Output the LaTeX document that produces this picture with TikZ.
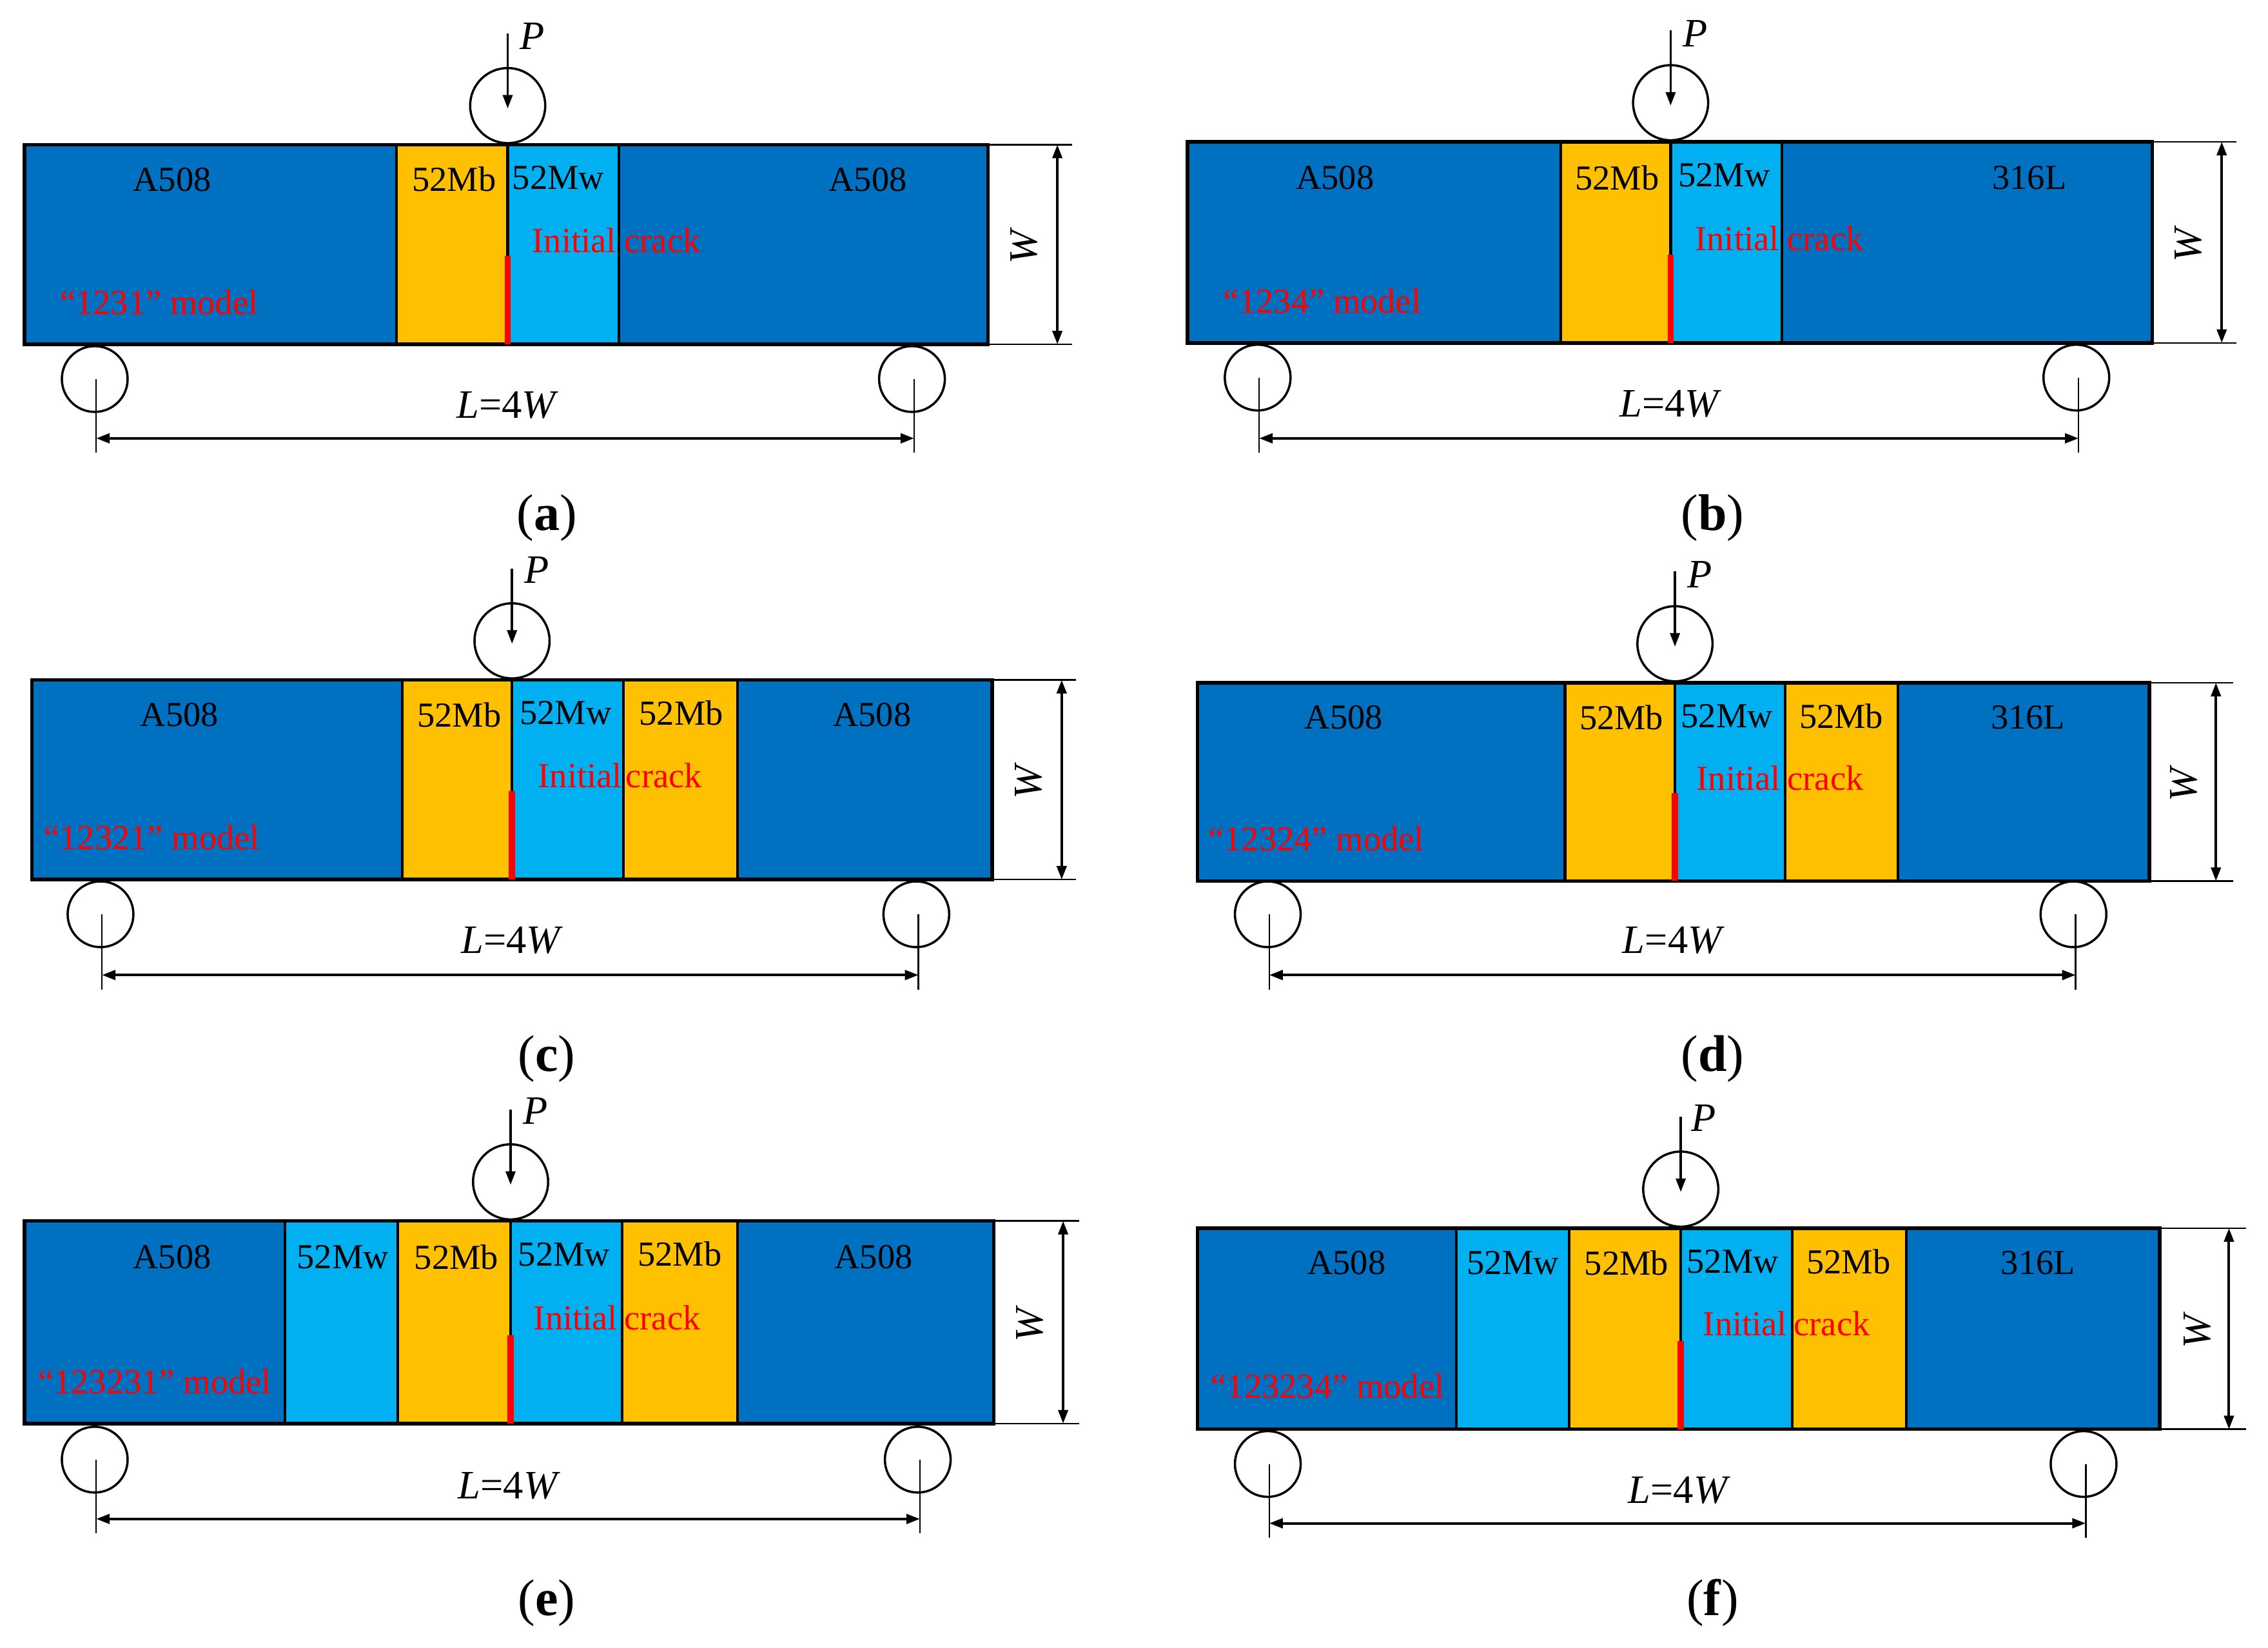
\documentclass[tikz,border=0pt]{standalone}
\usepackage{fontspec}
\setmainfont{Liberation Serif}
\usetikzlibrary{arrows.meta}
\definecolor{basecol}{HTML}{0070C0}
\definecolor{weldcol}{HTML}{00B0F0}
\definecolor{buttcol}{HTML}{FFC000}
\definecolor{crackcol}{HTML}{FF0000}
\tikzset{
  seg/.style={draw=black,line width=0.85pt},
  frameline/.style={draw=black,line width=1.1pt},
  crackline/.style={draw=crackcol,line width=1.9pt},
  txt/.style={inner sep=0pt,font=\fontsize{10.9}{12}\selectfont},
  redtxt/.style={txt,text=crackcol},
  symb/.style={inner sep=0pt,font=\fontsize{12.5}{14}\itshape\selectfont},
  caption/.style={inner sep=0pt,font=\fontsize{16}{18}\selectfont},
  loadroll/.style={circle,draw=black,line width=0.7pt,minimum size=23.3pt,inner sep=0pt},
  suproll/.style={circle,draw=black,line width=0.7pt,minimum size=20.4pt,inner sep=0pt},
  thin line/.style={draw=black,line width=0.5pt},
  dimline/.style={draw=black,line width=0.8pt,{Triangle[length=4.2pt,width=3pt]}-{Triangle[length=4.2pt,width=3pt]}},
  loadline/.style={draw=black,line width=0.7pt,-{Triangle[length=4.2pt,width=3pt]}},
}
% load roller: id, x, circle y, P x, P y
\newcommand{\loadroller}[5]{%
  \node[loadroll] (#1-load) at (#2,#3) {};
  \coordinate (#1-ptop) at (#2,#3-50);
  \coordinate (#1-ptip) at (#2,#3+2);
  \draw[loadline] (#1-ptop) -- (#1-ptip);
  \node[symb] (#1-P) at (#4,#5) {P};
}
% supports and span: id, xl, xr, y, dim y, L x, L y
\newcommand{\supports}[7]{%
  \node[suproll] (#1-sl) at (#2-0.5,#4) {};
  \node[suproll] (#1-sr) at (#3-0.5,#4) {};
  \coordinate (#1-tl) at (#2+0.5,#4);
  \coordinate (#1-tr) at (#3+1,#4);
  \coordinate (#1-bl) at (#2+0.5,#5+10);
  \coordinate (#1-br) at (#3+1,#5+10);
  \coordinate (#1-dl) at (#2+0.5,#5);
  \coordinate (#1-dr) at (#3+1,#5);
  \draw[thin line] (#1-tl) -- (#1-bl);
  \draw[thin line] (#1-tr) -- (#1-br);
  \draw[dimline] (#1-dl) -- (#1-dr);
  \node[symb] (#1-L) at (#6,#7) {L\textup{=4}W};
}
% height dimension: id, x right, y top, y bottom, arrow x, ext x, W x
\newcommand{\heightdim}[7]{%
  \coordinate (#1-e1) at (#2,#3);
  \coordinate (#1-e2) at (#6,#3);
  \coordinate (#1-e3) at (#2,#4);
  \coordinate (#1-e4) at (#6,#4);
  \coordinate (#1-a1) at (#5,#3);
  \coordinate (#1-a2) at (#5,#4);
  \draw[thin line] (#1-e1) -- (#1-e2);
  \draw[thin line] (#1-e3) -- (#1-e4);
  \draw[dimline] (#1-a1) -- (#1-a2);
  \node[symb,rotate=90] (#1-W) at (#7,{(#3+#4)/2+2}) {W};
}
% beam segment: x0, x1, y top, y bottom, colour
\newcommand{\segm}[5]{\draw[seg,fill=#5] (#1,#3) rectangle (#2,#4);}
% crack: id, x, y bottom
\newcommand{\crackmark}[3]{%
  \coordinate (#1-c1) at (#2,#3-61);
  \coordinate (#1-c2) at (#2,#3);
  \draw[crackline] (#1-c1) -- (#1-c2);
}
\begin{document}
\begin{tikzpicture}[x=0.44872pt,y=-0.44872pt]
\useasboundingbox (0,0) rectangle (1568,1139);

% (a)
\segm{17}{274}{100}{238}{basecol}
\segm{274}{351}{100}{238}{buttcol}
\segm{351}{428}{100}{238}{weldcol}
\segm{428}{683}{100}{238}{basecol}
\draw[frameline] (17,100) rectangle (683,238);
\crackmark{a}{351}{238}
\loadroller{a}{351}{73}{368}{25}
\supports{a}{66}{631}{262}{303}{350}{280}
\heightdim{a}{683}{100}{238}{731}{741}{708}
\node[txt] (a-t1) at (119,124) {A508};
\node[txt] (a-t2) at (314,124) {52Mb};
\node[txt] (a-t3) at (386,123) {52Mw};
\node[txt] (a-t4) at (600,124) {A508};
\node[redtxt] (a-i) at (397,166) {Initial};
\node[redtxt] (a-k) at (458,166) {crack};
\node[redtxt] (a-m) at (110,209) {“1231” model};
\node[caption] (a-cap) at (378,358) {(\textbf{a})};

% (b)
\segm{821}{1079}{98}{237}{basecol}
\segm{1079}{1155}{98}{237}{buttcol}
\segm{1155}{1232}{98}{237}{weldcol}
\segm{1232}{1488}{98}{237}{basecol}
\draw[frameline] (821,98) rectangle (1488,237);
\crackmark{b}{1155}{237}
\loadroller{b}{1155}{71}{1172}{23}
\supports{b}{870}{1436}{261}{303}{1154}{279}
\heightdim{b}{1488}{98}{237}{1536}{1546}{1513}
\node[txt] (b-t1) at (923,123) {A508};
\node[txt] (b-t2) at (1118,123) {52Mb};
\node[txt] (b-t3) at (1192,121) {52Mw};
\node[txt] (b-t4) at (1403,123) {316L};
\node[redtxt] (b-i) at (1201,165) {Initial};
\node[redtxt] (b-k) at (1262,165) {crack};
\node[redtxt] (b-m) at (914,208) {“1234” model};
\node[caption] (b-cap) at (1184,358) {(\textbf{b})};

% (c)
\segm{22}{278}{470}{608}{basecol}
\segm{278}{354}{470}{608}{buttcol}
\segm{354}{431}{470}{608}{weldcol}
\segm{431}{510}{470}{608}{buttcol}
\segm{510}{686}{470}{608}{basecol}
\draw[frameline] (22,470) rectangle (686,608);
\crackmark{c}{354}{608}
\loadroller{c}{354}{443}{371}{394}
\supports{c}{70}{634}{632}{674}{353}{650}
\heightdim{c}{686}{470}{608}{734}{744}{711}
\node[txt] (c-t1) at (124,494) {A508};
\node[txt] (c-t2) at (317.5,494) {52Mb};
\node[txt] (c-t3) at (391,493) {52Mw};
\node[txt] (c-t4) at (471,493) {52Mb};
\node[txt] (c-t5) at (603,494) {A508};
\node[redtxt] (c-i) at (401,536) {Initial};
\node[redtxt] (c-k) at (459,536) {crack};
\node[redtxt] (c-m) at (105,579) {“12321” model};
\node[caption] (c-cap) at (378,732) {(\textbf{c})};

% (d)
\segm{828}{1082}{472}{609}{basecol}
\segm{1082}{1158}{472}{609}{buttcol}
\segm{1158}{1234}{472}{609}{weldcol}
\segm{1234}{1312}{472}{609}{buttcol}
\segm{1312}{1486}{472}{609}{basecol}
\draw[frameline] (828,472) rectangle (1486,609);
\crackmark{d}{1158}{609}
\loadroller{d}{1158}{445}{1175}{397}
\supports{d}{877}{1434}{632}{674}{1156}{650}
\heightdim{d}{1486}{472}{609}{1532}{1544}{1510}
\node[txt] (d-t1) at (929,496) {A508};
\node[txt] (d-t2) at (1121,496) {52Mb};
\node[txt] (d-t3) at (1194,495) {52Mw};
\node[txt] (d-t4) at (1273,495) {52Mb};
\node[txt] (d-t5) at (1402,496) {316L};
\node[redtxt] (d-i) at (1202,538) {Initial};
\node[redtxt] (d-k) at (1262,538) {crack};
\node[redtxt] (d-m) at (910,580) {“12324” model};
\node[caption] (d-cap) at (1184,732) {(\textbf{d})};

% (e)
\segm{17}{197}{844}{984}{basecol}
\segm{197}{275}{844}{984}{weldcol}
\segm{275}{353}{844}{984}{buttcol}
\segm{353}{430}{844}{984}{weldcol}
\segm{430}{510}{844}{984}{buttcol}
\segm{510}{687}{844}{984}{basecol}
\draw[frameline] (17,844) rectangle (687,984);
\crackmark{e}{353}{984}
\loadroller{e}{353}{817}{370}{768}
\supports{e}{66}{635}{1009}{1050}{351}{1027}
\heightdim{e}{687}{844}{984}{735}{746}{712}
\node[txt] (e-t1) at (119,869) {A508};
\node[txt] (e-t2) at (237,869) {52Mw};
\node[txt] (e-t3) at (315.5,869) {52Mb};
\node[txt] (e-t4) at (390,867) {52Mw};
\node[txt] (e-t5) at (470,867) {52Mb};
\node[txt] (e-t6) at (604,869) {A508};
\node[redtxt] (e-i) at (398,911) {Initial};
\node[redtxt] (e-k) at (458,911) {crack};
\node[redtxt] (e-m) at (107,955) {“123231” model};
\node[caption] (e-cap) at (378,1108) {(\textbf{e})};

% (f)
\segm{828}{1007}{849}{988}{basecol}
\segm{1007}{1085}{849}{988}{weldcol}
\segm{1085}{1162}{849}{988}{buttcol}
\segm{1162}{1239}{849}{988}{weldcol}
\segm{1239}{1318}{849}{988}{buttcol}
\segm{1318}{1493}{849}{988}{basecol}
\draw[frameline] (828,849) rectangle (1493,988);
\crackmark{f}{1162}{988}
\loadroller{f}{1162}{822}{1178}{773}
\supports{f}{877}{1441}{1012}{1053}{1160}{1030}
\heightdim{f}{1493}{849}{988}{1541}{1553}{1519}
\node[txt] (f-t1) at (931,873) {A508};
\node[txt] (f-t2) at (1046,873) {52Mw};
\node[txt] (f-t3) at (1124.5,873) {52Mb};
\node[txt] (f-t4) at (1198,872) {52Mw};
\node[txt] (f-t5) at (1278,872) {52Mb};
\node[txt] (f-t6) at (1409,873) {316L};
\node[redtxt] (f-i) at (1206.5,915) {Initial};
\node[redtxt] (f-k) at (1266.5,915) {crack};
\node[redtxt] (f-m) at (918,958) {“123234” model};
\node[caption] (f-cap) at (1184,1108) {(\textbf{f})};
\end{tikzpicture}
\end{document}
